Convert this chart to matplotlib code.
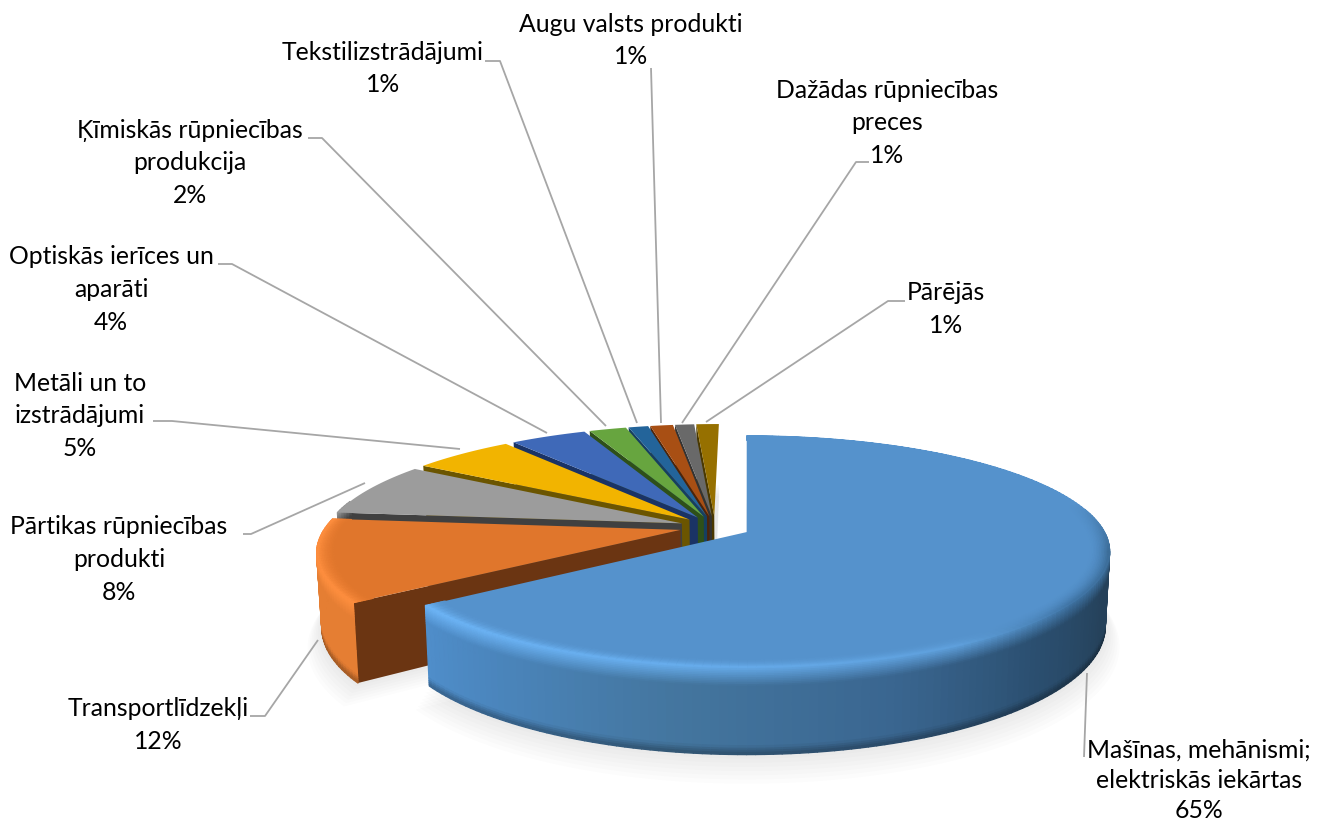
import numpy as np
import matplotlib
matplotlib.use("Agg")
import matplotlib.pyplot as plt
from matplotlib.collections import PolyCollection
from matplotlib.colors import to_rgb

plt.rcParams['font.family'] = ['Lato', 'DejaVu Sans']

# data, clockwise from 12 o'clock
categories = ["Mašīnas, mehānismi;\nelektriskās iekārtas", "Transportlīdzekļi",
              "Pārtikas rūpniecības\nprodukti", "Metāli un to\nizstrādājumi",
              "Optiskās ierīces un\naparāti", "Ķīmiskās rūpniecības\nprodukcija",
              "Tekstilizstrādājumi", "Augu valsts produkti",
              "Dažādas rūpniecības\npreces", "Pārējās"]
# wedge sizes, the labels show them rounded
values = [65, 11.6, 7.5, 5.4, 4.05, 1.97, 1.05, 1.21, 1.02, 1.2]
percent_labels = ["65%", "12%", "8%", "5%", "4%", "2%", "1%", "1%", "1%", "1%"]

top_colors = ["#5592cc", "#e0762c", "#9c9c9c", "#f2b400", "#3f69b8",
              "#67a53f", "#23649a", "#a84f14", "#696969", "#967000"]
side_colors = ["#24405a", "#6b3512", "#404040", "#6b5500", "#1a3365",
               "#2e5019", "#163f60", "#4d2409", "#333333", "#4a3800"]

# label centre x, first line y, line gap, leader line points
label_layout = [
    (1199, 750, 30, [(1087, 673), (1084, 757)]),
    (158, 709, 32.7, [(250, 716), (265, 716), (318, 640)]),
    (119, 527, 32.7, [(243, 534), (251, 534), (365, 483)]),
    (80, 383, 32.7, [(153, 421), (172, 421), (460, 449)]),
    (111, 257, 32.7, [(218, 264), (232, 264), (547, 433)]),
    (190, 130, 32.7, [(308, 138), (322, 138), (606, 426)]),
    (383, 52, 32.7, [(485, 61), (500, 61), (637, 423)]),
    (631, 24, 32.7, [(651, 68), (661, 423)]),
    (887, 90, 32.7, [(869, 162), (856, 162), (682, 423)]),
    (946, 293, 32.7, [(905, 301), (888, 301), (706, 422)]),
]

# projection of the tilted pie
VX, VY = 747, 527
R, RT = 355, 110.8
PERSP = 0.167
U0 = 0.09
EXPLODE = 0.1
H = 72
NARROW = 0.012


def project(eu, ev, r, th, d=0.0):
    u = eu + r * np.sin(th)
    v = ev + r * np.cos(th)
    s = 1 / (1 + PERSP * v)
    x = VX + R * (u - U0) * s
    y = VY - RT * v * s
    return VX + (x - VX) * (1 - NARROW * d), y + H * s * d


def mix(a, b, t):
    a, b = np.array(to_rgb(a)), np.array(to_rgb(b))
    return tuple(a + (b - a) * t)


def stops(th, table):
    deg = np.degrees(th)
    ang = [p[0] for p in table]
    rgb = np.array([to_rgb(p[1]) for p in table])
    return tuple(np.interp(deg, ang, rgb[:, i]) for i in range(3))


blue_wall = [(90, "#24405a"), (110, "#25415a"), (135, "#2b4f70"), (160, "#3a6690"),
             (190, "#44769f"), (215, "#4a84ba"), (234, "#4f8ecb")]
blue_rim = [(60, "#5592cc"), (75, "#5592cc"), (100, "#3a6a94"), (125, "#3f73a3"),
            (150, "#5fa0dc"), (190, "#68aeee"), (234, "#6db5f7")]
orange_wall = [(234, "#e57e33"), (280, "#e57e33")]
orange_rim = [(234, "#ff8f3f"), (280, "#ff8f3f")]


def wall_color(i, th):
    if i == 0:
        return stops(th, blue_wall)
    if i == 1:
        return stops(th, orange_wall)
    return to_rgb(side_colors[i])


def rim_color(i, th):
    if i == 0:
        return stops(th, blue_rim)
    if i == 1:
        return stops(th, orange_rim)
    return to_rgb(top_colors[i])


fig = plt.figure(figsize=(13.22, 8.23), dpi=100)
ax = fig.add_axes([0, 0, 1, 1])
ax.set_xlim(0, 1322)
ax.set_ylim(823, 0)
ax.axis("off")

fractions = np.array(values) / sum(values)
ends = np.cumsum(fractions) * 2 * np.pi
starts = ends - fractions * 2 * np.pi
order = list(range(len(values)))[::-1]

# soft shadow under everything
for i in order:
    mid = (starts[i] + ends[i]) / 2
    eu, ev = EXPLODE * np.sin(mid), EXPLODE * np.cos(mid)
    ths = np.linspace(starts[i], ends[i], 120)
    for k in range(8):
        x, y = project(eu, ev, 1 + 0.006 * k, ths, 1 + 0.035 * k)
        x0, y0 = project(eu, ev, 0, 0.0, 1 + 0.035 * k)
        ax.fill(np.r_[x0, x], np.r_[y0, y], color="#000000", alpha=0.012, lw=0, zorder=1)

z = 2
for i in order:
    mid = (starts[i] + ends[i]) / 2
    eu, ev = EXPLODE * np.sin(mid), EXPLODE * np.cos(mid)
    n = max(int(fractions[i] * 300), 6)
    ths = np.linspace(starts[i], ends[i], n + 1)
    ax0, ay0 = project(eu, ev, 0, 0.0)

    # cut face on the start side (the big slice's one faces away)
    if i > 0:
        ox0, oy0 = project(eu, ev, 1, starts[i])
        ax1, ay1 = project(eu, ev, 0, 0.0, 1)
        ox1, oy1 = project(eu, ev, 1, starts[i], 1)
        ax.fill([ax0, ox0, ox1, ax1], [ay0, oy0, oy1, ay1], color=side_colors[i], lw=0, zorder=z)
        z += 1

    # outer wall, rows from the rim down to the floor, back segments first
    depth = np.r_[np.linspace(0, 0.22, 12), np.linspace(0.3, 0.9, 3), np.linspace(0.93, 1, 4)]
    segs = sorted(zip(ths[:-1], ths[1:]), key=lambda p: -np.cos((p[0] + p[1]) / 2))
    quads, cols = [], []
    for a, b in segs:
        # the back of the rim is hidden by the top face anyway
        if np.cos((a + b) / 2) > 0.2:
            continue
        w = wall_color(i, (a + b) / 2)
        h = rim_color(i, (a + b) / 2)
        for d0, d1 in zip(depth[:-1], depth[1:]):
            x00, y00 = project(eu, ev, 1, a, d0)
            x01, y01 = project(eu, ev, 1, b, d0)
            x11, y11 = project(eu, ev, 1, b, d1)
            x10, y10 = project(eu, ev, 1, a, d1)
            quads.append([(x00, y00), (x01, y01), (x11, y11), (x10, y10)])
            dm = (d0 + d1) / 2
            if dm < 0.22:
                cols.append(mix(h, w, dm / 0.22))
            elif dm > 0.9:
                cols.append(mix(w, "#000000", (dm - 0.9) / 0.1 * 0.3))
            else:
                cols.append(w)
    if quads:
        ax.add_collection(PolyCollection(quads, facecolors=cols, edgecolors=cols, linewidths=1.0, zorder=z))
    z += 1

    # top face
    x, y = project(eu, ev, 1, ths)
    ax.fill(np.r_[ax0, x], np.r_[ay0, y], color=top_colors[i], lw=0, zorder=z)
    z += 1

    # bevel on the top face for the two big slices
    if i < 2:
        radii = np.linspace(0.945, 1, 14)
        quads, cols = [], []
        for a, b in zip(ths[:-1], ths[1:]):
            h = rim_color(i, (a + b) / 2)
            for r0, r1 in zip(radii[:-1], radii[1:]):
                x00, y00 = project(eu, ev, r0, a)
                x01, y01 = project(eu, ev, r0, b)
                x11, y11 = project(eu, ev, r1, b)
                x10, y10 = project(eu, ev, r1, a)
                quads.append([(x00, y00), (x01, y01), (x11, y11), (x10, y10)])
                t = ((r0 + r1) / 2 - 0.945) / 0.055
                cols.append(mix(top_colors[i], h, t ** 2))
        ax.add_collection(PolyCollection(quads, facecolors=cols, edgecolors=cols, linewidths=0.8, zorder=z))
        z += 1

# labels and leader lines
for name, pct, (cx, y0, gap, pts) in zip(categories, percent_labels, label_layout):
    lines = name.split("\n") + [pct]
    for j, line in enumerate(lines):
        ax.text(cx, y0 + j * gap, line, ha="center", va="center",
                fontsize=17.8, color="#000000", zorder=z + 1)
    ax.plot([p[0] for p in pts], [p[1] for p in pts], color="#a6a6a6", lw=1.3,
            solid_capstyle="butt", zorder=z + 1)

fig.savefig("out.png", dpi=100)
